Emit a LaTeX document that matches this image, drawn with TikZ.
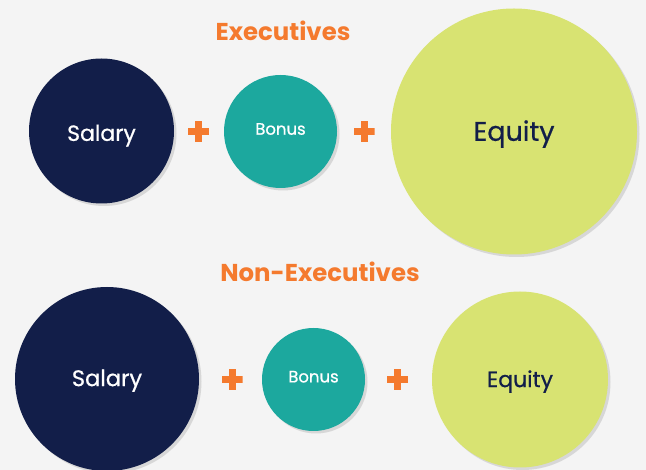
\documentclass[tikz,border=0pt]{standalone}
\usepackage{fontspec}
\setmainfont{Poppins}
\newfontfamily\lblfont[FakeBold=0.7]{Poppins}
\usetikzlibrary{shadows}
\definecolor{bgc}{HTML}{F4F4F4}
\definecolor{navy}{HTML}{121E49}
\definecolor{teal}{HTML}{1CA89E}
\definecolor{lime}{HTML}{D8E372}
\definecolor{orng}{HTML}{F47A2E}
\tikzset{
  bubble/.style={circle, inner sep=0pt, minimum size=#1, text depth=0pt,
    drop shadow={shadow xshift=2.5pt, shadow yshift=-2.5pt, opacity=0.2, fill=black!60}},
  salarybub/.style={bubble=#1, fill=navy, text=white},
  bonusbub/.style={bubble=#1, fill=teal, text=white},
  equitybub/.style={bubble=#1, fill=lime, text=navy},
  % label font size and its capital height (the box is centred on the capitals)
  lbl/.style 2 args={font=\lblfont\fontsize{#1}{#1}\selectfont, text height=#2},
  heading/.style={text=orng, font=\bfseries\fontsize{24.4}{28}\selectfont},
  plussign/.style={minimum size=21pt, inner sep=0pt,
    path picture={
      \fill[orng] ([xshift=-10.5pt,yshift=-3.5pt]path picture bounding box.center) rectangle ++(21pt,7pt);
      \fill[orng] ([xshift=-3.5pt,yshift=-10.5pt]path picture bounding box.center) rectangle ++(7pt,21pt);
    }},
}
\begin{document}
\begin{tikzpicture}[x=1pt, y=-1pt]
  \fill[bgc] (0,0) rectangle (646,470);
  \useasboundingbox (0,0) rectangle (646,470);

  % executives row
  \node[heading] (exec) at (283,31) {Executives};
  \node[salarybub=145pt, lbl={22}{15.2pt}] (s1) at (101.5,131) {\raisebox{-2.3pt}{Salary}};
  \node[plussign] (p1) at (198.5,131.5) {};
  \node[bonusbub=113pt, lbl={16.5}{11.4pt}] (b1) at (280.5,131.5) {\raisebox{2.5pt}{Bonus}};
  \node[plussign] (p2) at (364,131.5) {};
  \node[equitybub=246pt, lbl={27}{18.7pt}] (e1) at (514,131.5) {Equity};

  % non-executives row
  \node[heading] (nonexec) at (320,272) {Non-Executives};
  \node[salarybub=184pt, lbl={22.5}{15.6pt}] (s2) at (107,379) {\raisebox{0.7pt}{Salary}};
  \node[plussign] (p3) at (232,380) {};
  \node[bonusbub=103pt, lbl={16.5}{11.4pt}] (b2) at (313.5,379.5) {\raisebox{2.8pt}{Bonus}};
  \node[plussign] (p4) at (397.5,380) {};
  \node[equitybub=176pt, lbl={22}{15.2pt}] (e2) at (520,379.5) {Equity};
\end{tikzpicture}
\end{document}
